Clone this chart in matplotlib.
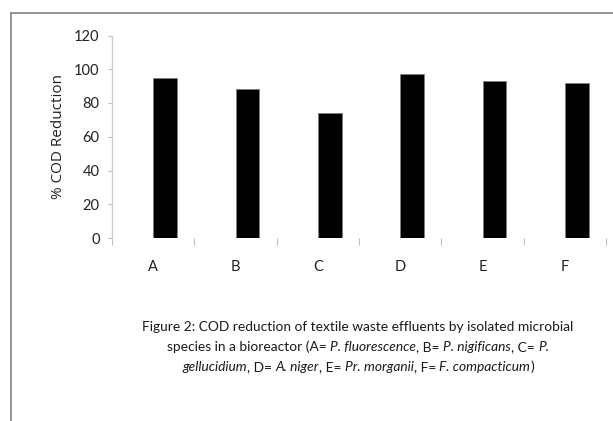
import numpy as np
import matplotlib
matplotlib.use("Agg")
import matplotlib.pyplot as plt
from matplotlib.lines import Line2D

# data
species = ['A', 'B', 'C', 'D', 'E', 'F']
cod_reduction = [94.8, 88.3, 74.1, 97.2, 93.2, 91.9]
yticks = [0, 20, 40, 60, 80, 100, 120]

fig = plt.figure(figsize=(6.13, 4.21), dpi=100)
W, H = 613, 421
ax = fig.add_axes([112 / W, 1 - 238 / H, (606 - 112) / W, (238 - 35.5) / H])

x = np.arange(len(species))
ax.bar(x, cod_reduction, width=0.29, align='edge', color='black',
       edgecolor='#808080', linewidth=0.6)

ax.set_xlim(-0.5, len(species) - 0.5)
ax.set_ylim(0, 120)
ax.set_yticks(yticks)
ax.set_yticklabels([str(v) for v in yticks], fontsize=10.5,
                   family='Lato', color='#222222')

# boundaries get the tick marks, centres get the labels
ax.set_xticks(np.arange(-0.5, len(species), 1.0))
ax.set_xticklabels([])
ax.set_xticks(x, minor=True)
ax.set_xticklabels(species, minor=True, fontsize=10.5,
                   family='Lato', color='#222222')
ax.tick_params(axis='x', which='major', length=5, color='#bfbfbf', direction='out')
ax.tick_params(axis='x', which='minor', length=0, pad=16)
ax.tick_params(axis='y', length=3, color='#bfbfbf', pad=6)

for s in ['top', 'right', 'bottom']:
    ax.spines[s].set_visible(False)
ax.spines['left'].set_color('#d0d0d0')
ax.spines['left'].set_linewidth(1.0)

ax.set_ylabel('% COD Reduction', family='Open Sans', fontsize=11,
              color='#222222', labelpad=6)

# frame lines of the page (top and left)
fig.add_artist(Line2D([11 / W, 1.0], [1 - 13 / H, 1 - 13 / H],
                      color='#8c8c8c', lw=1.3, transform=fig.transFigure))
fig.add_artist(Line2D([11 / W, 11 / W], [1 - 13 / H, 0.0],
                      color='#8c8c8c', lw=1.3, transform=fig.transFigure))

# caption: segments of (text, italic)
caption = [
    [("Figure 2: COD reduction of textile waste effluents by isolated microbial", False)],
    [("species in a bioreactor (A= ", False), ("P. fluorescence", True), (", B= ", False),
     ("P. nigificans", True), (", C= ", False), ("P.", True)],
    [("gellucidium", True), (", D= ", False), ("A. niger", True), (", E= ", False),
     ("Pr. morganii", True), (", F= ", False), ("F. compacticum", True), (")", False)],
]
cap_font = dict(fontsize=9.9, family='Lato', color='#1a1a1a')
renderer = fig.canvas.get_renderer()


def text_width(s, italic):
    # width incl. trailing spaces: measure with a sentinel bar
    style = 'italic' if italic else 'normal'
    t1 = fig.text(0, 0, s + "|", style=style, **cap_font)
    t2 = fig.text(0, 0, "|", style=style, **cap_font)
    w = t1.get_window_extent(renderer).width - t2.get_window_extent(renderer).width
    t1.remove()
    t2.remove()
    return w


cx = 358
for i, line in enumerate(caption):
    widths = [text_width(s, it) for s, it in line]
    xpos = cx - sum(widths) / 2
    ypix = 327 + 20 * i
    for (s, it), w in zip(line, widths):
        fig.text(xpos / W, 1 - ypix / H, s, ha='left', va='center',
                 style='italic' if it else 'normal', **cap_font)
        xpos += w

fig.savefig('out.png', dpi=100)
